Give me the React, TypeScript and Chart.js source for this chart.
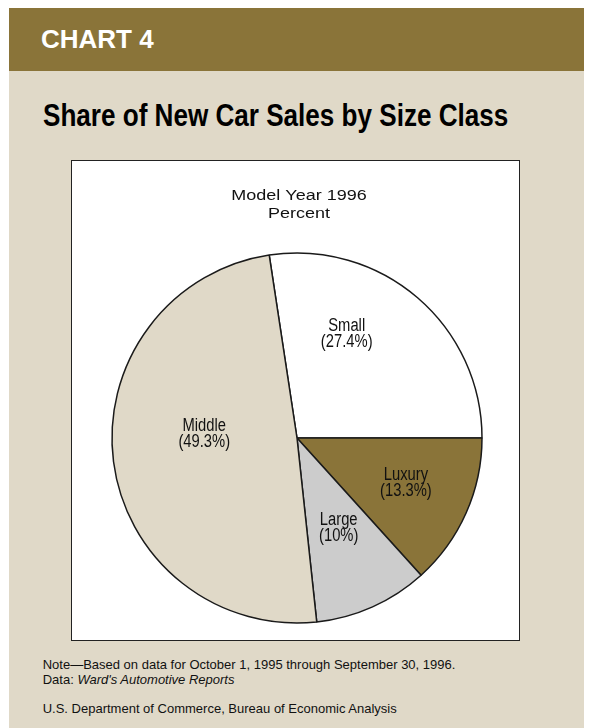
import React, { useEffect, useRef } from "react";
import { Chart, registerables } from "chart.js";

Chart.register(...registerables);

// ---- data ----
const categories = ["Small", "Luxury", "Large", "Middle"];
const shares = [27.4, 13.3, 10, 49.3];
const shareLabels = ["(27.4%)", "(13.3%)", "(10%)", "(49.3%)"];
const chartTitleLines = ["Model Year 1996", "Percent"];

// ---- styles ----
const OLIVE = "#8A7439";
const BEIGE = "#E0D9C8";
const sliceColors = ["#FFFFFF", OLIVE, "#CCCCCC", BEIGE];
const labelPlacement = [
  { along: 0.344, radial: 0.629 },
  { along: 0.46, radial: 0.635 },
  { along: 0.475, radial: 0.533 },
  { along: 0.56, radial: 0.502 },
];

const total = shares.reduce((a, b) => a + b, 0);
const rotation = 90 - (shares[0] / total) * 360;

const boxTitlePlugin = {
  id: "boxTitle",
  afterDraw(chart: any, _args: any, opts: any) {
    const ctx = chart.ctx;
    const meta = chart.getDatasetMeta(0);
    const cx = (meta.data[0] as any).x + 2;
    ctx.save();
    ctx.fillStyle = "#111";
    ctx.font = '18px "Liberation Sans", Arial, sans-serif';
    ctx.textAlign = "center";
    ctx.textBaseline = "alphabetic";
    opts.lines.forEach((line: string, i: number) => {
      ctx.save();
      ctx.translate(cx, opts.top + i * opts.lineHeight);
      ctx.scale(1, 0.85);
      ctx.fillText(line, 0, 0);
      ctx.restore();
    });
    ctx.restore();
  },
};

const sliceLabelPlugin = {
  id: "sliceLabels",
  afterDatasetsDraw(chart: any, _args: any, opts: any) {
    const ctx = chart.ctx;
    const meta = chart.getDatasetMeta(0);
    meta.data.forEach((arc: any, i: number) => {
      const p = arc.getProps(["x", "y", "startAngle", "endAngle", "outerRadius"], true);
      const pl = opts.placement[i];
      const a = p.startAngle + pl.along * (p.endAngle - p.startAngle);
      const r = pl.radial * p.outerRadius;
      const x = p.x + r * Math.cos(a);
      const y = p.y + r * Math.sin(a);
      ctx.save();
      ctx.font = '18px "Liberation Sans", Arial, sans-serif';
      ctx.fillStyle = "#111";
      ctx.textAlign = "center";
      ctx.textBaseline = "alphabetic";
      ctx.translate(x, y);
      ctx.scale(0.82, 1);
      ctx.fillText(categories[i], 0, -2);
      ctx.fillText(shareLabels[i], 0, 14);
      ctx.restore();
    });
  },
};

function PieChart() {
  const ref = useRef<HTMLCanvasElement | null>(null);
  useEffect(() => {
    if (!ref.current) return;
    const chart = new Chart(ref.current, {
      type: "pie",
      data: {
        labels: categories,
        datasets: [
          {
            data: shares,
            backgroundColor: sliceColors,
            borderColor: "#1a1a1a",
            borderWidth: 1.5,
            hoverBorderWidth: 1.5,
            hoverOffset: 0,
            radius: 185,
          } as any,
        ],
      },
      options: {
        animation: false,
        responsive: true,
        maintainAspectRatio: false,
        rotation,
        layout: { padding: { left: 34.5, right: 31.5, top: 86.5, bottom: 11.5 } },
        events: [],
        plugins: {
          legend: { display: false },
          tooltip: { enabled: false },
          title: { display: false },
          boxTitle: { lines: chartTitleLines, top: 38.5, lineHeight: 18 },
          sliceLabels: { placement: labelPlacement },
        } as any,
      },
      plugins: [boxTitlePlugin, sliceLabelPlugin],
    });
    return () => chart.destroy();
  }, []);
  return <canvas ref={ref} />;
}

export default function App() {
  const sans = '"Liberation Sans", Arial, sans-serif';
  return (
    <div
      style={{
        position: "relative",
        marginLeft: 1,
        width: 583,
        height: 720,
        background: BEIGE,
        fontFamily: sans,
        overflow: "hidden",
      }}
    >
      <div
        style={{
          position: "absolute",
          left: 0,
          top: 0,
          width: 583,
          height: 63,
          background: OLIVE,
        }}
      />
      <div
        style={{
          position: "absolute",
          left: 32,
          top: 18,
          fontFamily: sans,
          fontWeight: "bold",
          fontSize: 26,
          lineHeight: "26px",
          color: "#fff",
          whiteSpace: "nowrap",
        }}
      >
        CHART 4
      </div>
      <div
        style={{
          position: "absolute",
          left: 33.5,
          top: 90.6,
          fontFamily: sans,
          fontWeight: "bold",
          fontSize: 32,
          lineHeight: "32px",
          color: "#000",
          whiteSpace: "nowrap",
          transform: "scaleX(0.815)",
          transformOrigin: "0 0",
        }}
      >
        Share of New Car Sales by Size Class
      </div>
      <div
        style={{
          position: "absolute",
          left: 62,
          top: 152,
          width: 449,
          height: 481,
          boxSizing: "border-box",
          background: "#fff",
          border: "1.5px solid #222",
        }}
      >
        <div style={{ position: "relative", width: "100%", height: "100%" }}>
          <PieChart />
        </div>
      </div>
      <div
        style={{
          position: "absolute",
          left: 33.7,
          top: 649,
          fontSize: 13,
          lineHeight: "15px",
          color: "#111",
          whiteSpace: "nowrap",
        }}
      >
        <div>Note—Based on data for October 1, 1995 through September 30, 1996.</div>
        <div>
          Data: <i>Ward's Automotive Reports</i>
        </div>
      </div>
      <div
        style={{
          position: "absolute",
          left: 33.7,
          top: 693,
          fontSize: 13,
          lineHeight: "15px",
          color: "#111",
          whiteSpace: "nowrap",
        }}
      >
        U.S. Department of Commerce, Bureau of Economic Analysis
      </div>
    </div>
  );
}
